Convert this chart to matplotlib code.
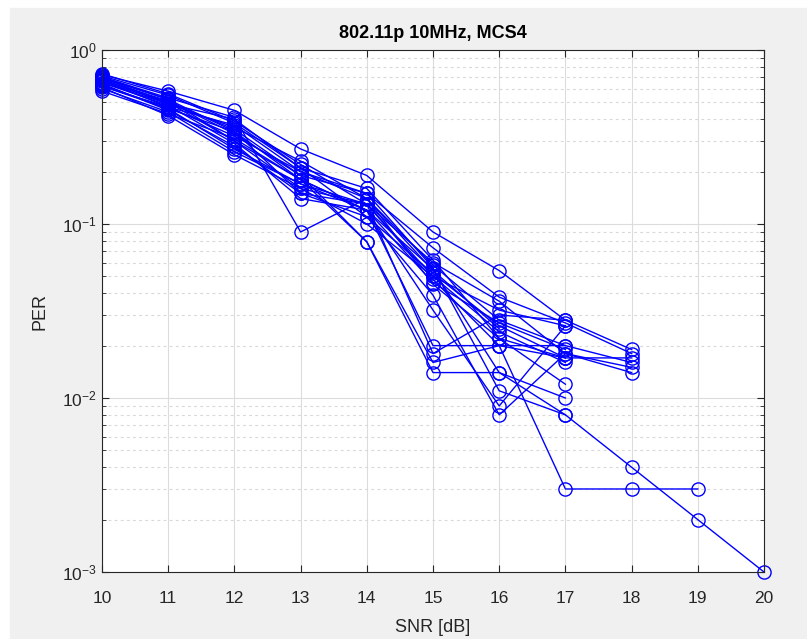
import numpy as np
import matplotlib.pyplot as plt
from matplotlib.patches import Rectangle
from matplotlib.ticker import LogLocator, NullFormatter, FixedLocator

plt.rcParams['font.family'] = ['Liberation Sans', 'DejaVu Sans']
plt.rcParams['mathtext.default'] = 'regular'

title = '802.11p 10MHz, MCS4'
snr_start = 10

# PER curves, one per run, starting at SNR = 10 dB
per_runs = [
    [0.70, 0.52, 0.34, 0.18, 0.12, 0.055, 0.014, 0.008, 0.004, 0.002, 0.001],
    [0.66, 0.50, 0.30, 0.16, 0.13, 0.048, 0.020, 0.003, 0.003, 0.003],
    [0.72, 0.58, 0.45, 0.27, 0.19, 0.090, 0.054, 0.028, 0.019],
    [0.62, 0.47, 0.32, 0.20, 0.15, 0.073, 0.038, 0.027, 0.018],
    [0.68, 0.49, 0.36, 0.23, 0.14, 0.058, 0.028, 0.020, 0.016],
    [0.64, 0.45, 0.28, 0.15, 0.11, 0.052, 0.026, 0.017, 0.017],
    [0.70, 0.53, 0.41, 0.09, 0.14, 0.045, 0.022, 0.012],
    [0.60, 0.44, 0.26, 0.17, 0.12, 0.020, 0.020, 0.020],
    [0.67, 0.51, 0.33, 0.19, 0.079, 0.014, 0.014, 0.010],
    [0.65, 0.48, 0.29, 0.14, 0.12, 0.032, 0.009, 0.026],
    [0.71, 0.55, 0.38, 0.21, 0.11, 0.039, 0.008, 0.018, 0.015],
    [0.63, 0.46, 0.27, 0.17, 0.13, 0.060, 0.036, 0.018, 0.014],
    [0.69, 0.50, 0.35, 0.19, 0.15, 0.056, 0.011, 0.008],
    [0.61, 0.42, 0.25, 0.16, 0.10, 0.050, 0.024, 0.016],
    [0.73, 0.56, 0.39, 0.22, 0.13, 0.018, 0.030, 0.028],
    [0.58, 0.43, 0.31, 0.18, 0.079, 0.016, 0.020, 0.017],
    [0.67, 0.47, 0.37, 0.20, 0.14, 0.054, 0.025],
    [0.69, 0.52, 0.30, 0.18, 0.12, 0.046, 0.027, 0.019],
    [0.65, 0.49, 0.40, 0.21, 0.16, 0.062, 0.022, 0.017],
    [0.62, 0.46, 0.34, 0.15, 0.13, 0.050, 0.032, 0.026],
]

fig = plt.figure(figsize=(8.07, 6.39), dpi=100, facecolor='white')
fig.patches.append(Rectangle((10 / 807, 0), 1, 1 - 8 / 639,
                             transform=fig.transFigure, color='#f0f0f0', zorder=-10))
ax = fig.add_axes([102 / 807, 1 - 572 / 639, 662 / 807, 522 / 639])

for run in per_runs:
    snr = np.arange(snr_start, snr_start + len(run))
    ax.plot(snr, run, '-o', color='#0000ff', lw=1.0, ms=9.5, mfc='none',
            mew=1.0, clip_on=False)

ax.set_yscale('log')
ax.set_xlim(10, 20)
ax.set_ylim(1e-3, 1)
ax.xaxis.set_major_locator(FixedLocator(range(10, 21)))
ax.yaxis.set_major_locator(LogLocator(base=10, numticks=10))
ax.yaxis.set_minor_locator(LogLocator(base=10, subs=np.arange(2, 10), numticks=20))
ax.yaxis.set_minor_formatter(NullFormatter())

ax.grid(True, which='major', color='#dcdcdc', lw=0.8)
ax.grid(True, which='minor', axis='y', color='#d8d8d8', lw=0.8, ls=(0, (2.5, 3)))
ax.set_axisbelow(True)

ax.tick_params(which='both', direction='in', top=True, right=True,
               colors='#262626', labelsize=12.5, labelcolor='#262626')
ax.tick_params(which='major', length=5)
ax.tick_params(axis='x', pad=14)
ax.tick_params(which='minor', length=3)
for s in ax.spines.values():
    s.set_color('#262626')
    s.set_linewidth(0.8)

ax.set_title(title, fontsize=13, fontweight='bold', color='black', pad=9)
ax.set_xlabel('SNR [dB]', fontsize=13, color='#262626', labelpad=9)
ax.set_ylabel('PER', fontsize=13, color='#262626', labelpad=10)

fig.savefig('out.png', dpi=100, facecolor=fig.get_facecolor())
